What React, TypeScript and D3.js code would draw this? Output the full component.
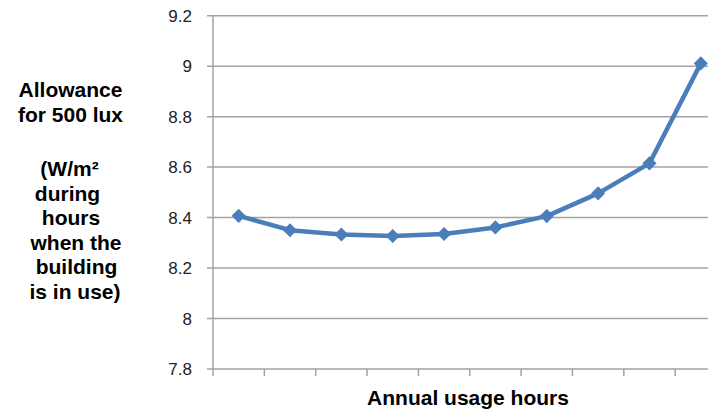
import React from "react";
import * as d3 from "d3";

// Annual usage bands (unlabelled on the axis) and the lighting power allowance for each
const usageBands: string[] = ["b1", "b2", "b3", "b4", "b5", "b6", "b7", "b8", "b9", "b10"];
const allowance: number[] = [8.407, 8.35, 8.333, 8.327, 8.335, 8.361, 8.406, 8.496, 8.615, 9.011];
const yTicks: number[] = [7.8, 8, 8.2, 8.4, 8.6, 8.8, 9, 9.2];

const titleLinesTop: string[] = ["Allowance", "for 500 lux"];
const titleLinesBottom: string[] = ["(W/m\u00B2", "during", "hours", "when the", "building", "is in use)"];
const titleLinesBottomDx: number[] = [-1.5, -3.5, 0, 5, 5.5, 4];

const W = 708;
const H = 409;
const FONT = "'Liberation Sans', Arial, Helvetica, sans-serif";

export default function App() {
  const left = 213;
  const right = 726.5;
  const top = 15.7;
  const bottom = 369;

  const x = d3.scaleBand<string>().domain(usageBands).range([left, right]);
  const y = d3.scaleLinear().domain([7.8, 9.2]).range([bottom, top]);

  const line = d3
    .line<number>()
    .x((_, i) => (x(usageBands[i]) as number) + x.bandwidth() / 2)
    .y((d) => y(d));

  const diamond = d3.symbol().type(d3.symbolSquare).size(100)() as string;

  const boundaries = d3.range(usageBands.length + 1).map((i) => left + i * x.step());

  const gridColor = "#a3a3a3";
  const blue = "#4a7ebb";

  return (
    <svg
      width={W}
      height={H}
      style={{ position: "absolute", left: 0, top: 0, background: "#fff" }}
      fontFamily={FONT}
    >
      {/* horizontal gridlines with their left tick marks */}
      {yTicks.map((t) => (
        <line key={"g" + t} x1={left - 6} x2={right} y1={y(t)} y2={y(t)} stroke={gridColor} strokeWidth={1.5} />
      ))}
      {/* y axis */}
      <line x1={left} x2={left} y1={top} y2={bottom} stroke={gridColor} strokeWidth={1.5} />
      {/* x tick marks at band boundaries */}
      {boundaries.map((bx, i) => (
        <line key={"xt" + i} x1={bx} x2={bx} y1={bottom} y2={bottom + 7} stroke={gridColor} strokeWidth={1.5} />
      ))}
      {/* y tick labels */}
      {yTicks.map((t) => (
        <text
          key={"l" + t}
          x={192}
          y={y(t)}
          dy="0.36em"
          textAnchor="end"
          fontSize={17}
          fill="#222"
        >
          {d3.format("~g")(t)}
        </text>
      ))}
      {/* data line */}
      <path d={line(allowance) as string} fill="none" stroke={blue} strokeWidth={4.5} strokeLinejoin="round" />
      {allowance.map((v, i) => (
        <path
          key={"m" + i}
          d={diamond}
          transform={`translate(${(x(usageBands[i]) as number) + x.bandwidth() / 2},${y(v)}) rotate(45)`}
          fill={blue}
        />
      ))}
      {/* axis titles */}
      <text x={468} y={405} textAnchor="middle" fontSize={21} fontWeight="bold" fill="#000">
        Annual usage hours
      </text>
      {titleLinesTop.map((s, i) => (
        <text key={"tt" + i} x={70.5} y={97 + i * 24.5} textAnchor="middle" fontSize={21} fontWeight="bold" fill="#000">
          {s}
        </text>
      ))}
      {titleLinesBottom.map((s, i) => (
        <text
          key={"tb" + i}
          x={71 + titleLinesBottomDx[i]}
          y={176 + i * 24.5}
          textAnchor="middle"
          fontSize={21}
          fontWeight="bold"
          fill="#000"
        >
          {s}
        </text>
      ))}
    </svg>
  );
}
